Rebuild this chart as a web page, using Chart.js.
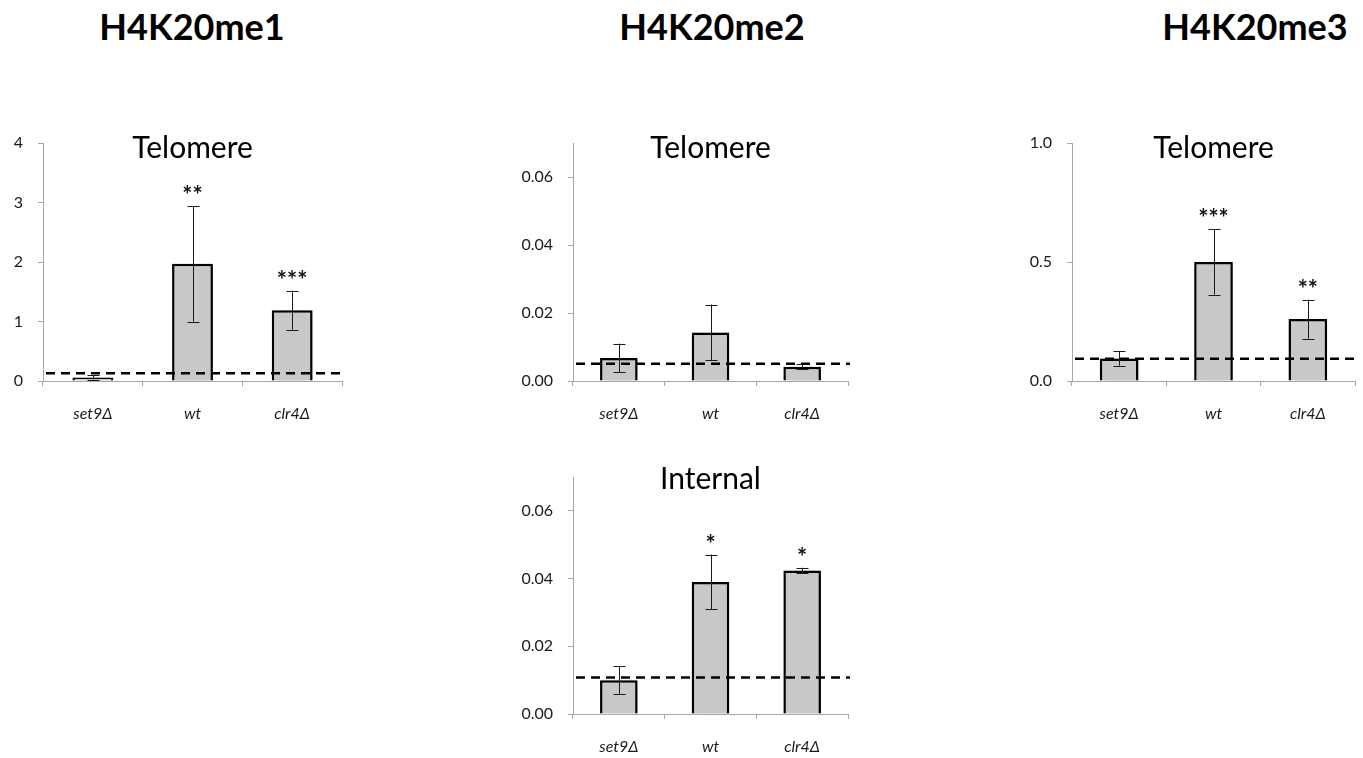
<!DOCTYPE html>
<html lang="en">
<head>
    <meta charset="UTF-8">
    <title>H4K20 methylation</title>
    <style>
        body {
            margin: 0;
            width: 1363px;
            height: 758px;
            background: white;
            position: relative;
            overflow: hidden;
            font-family: Lato, "Open Sans", sans-serif;
        }
        .head {
            position: absolute;
            top: 4px;
            width: 260px;
            text-align: center;
            font-weight: bold;
            font-size: 36px;
            color: black;
        }
        .box {
            position: absolute;
        }
    </style>
    <script src="https://cdn.jsdelivr.net/npm/chart.js"></script>
</head>
<body>
    <div class="head" style="left:62px">H4K20me1</div>
    <div class="head" style="left:582px">H4K20me2</div>
    <div class="head" style="left:1125px">H4K20me3</div>

    <div class="box" style="left:0px;top:100px;width:360px;height:330px"><canvas id="me1Tel"></canvas></div>
    <div class="box" style="left:520px;top:100px;width:350px;height:330px"><canvas id="me2Tel"></canvas></div>
    <div class="box" style="left:1020px;top:100px;width:343px;height:330px"><canvas id="me3Tel"></canvas></div>
    <div class="box" style="left:520px;top:434px;width:350px;height:324px"><canvas id="me2Int"></canvas></div>

    <script>
        const categories = ['set9Δ', 'wt', 'clr4Δ'];

        // H4K20me1, telomere
        const me1TelValues = [0.06, 1.97, 1.19];
        const me1TelErrors = [0.04, 0.97, 0.33];
        const me1TelCutoff = 0.13;
        const me1TelStars = ['', '**', '***'];
        const me1Ticks = [0, 1, 2, 3, 4];

        // H4K20me2, telomere
        const me2TelValues = [0.0068, 0.0143, 0.0042];
        const me2TelErrors = [0.0042, 0.0082, 0.0007];
        const me2TelCutoff = 0.0051;
        const me2TelStars = ['', '', ''];

        // H4K20me2, internal
        const me2IntValues = [0.0100, 0.0390, 0.0424];
        const me2IntErrors = [0.0041, 0.0081, 0.0008];
        const me2IntCutoff = 0.0108;
        const me2IntStars = ['', '*', '*'];
        const me2Ticks = [0, 0.02, 0.04, 0.06];

        // H4K20me3, telomere
        const me3TelValues = [0.095, 0.50, 0.26];
        const me3TelErrors = [0.03, 0.137, 0.082];
        const me3TelCutoff = 0.093;
        const me3TelStars = ['', '***', '**'];
        const me3Ticks = [0, 0.5, 1.0];

        Chart.defaults.font.family = 'Lato, "Open Sans", sans-serif';
        Chart.defaults.color = '#1a1a1a';

        // error bars, stars, dashed background line and the panel title
        const extras = {
            id: 'extras',
            beforeDatasetsDraw(chart) {
                const ctx = chart.ctx;
                ctx.save();
                ctx.shadowColor = 'rgba(0,0,0,0.28)';
                ctx.shadowBlur = 5;
                ctx.shadowOffsetX = 2;
                ctx.shadowOffsetY = 1;
            },
            afterDatasetsDraw(chart, args, opts) {
                const ctx = chart.ctx;
                ctx.restore();
                const area = chart.chartArea;
                const y = chart.scales.y;
                const meta = chart.getDatasetMeta(0);
                const values = chart.data.datasets[0].data;

                ctx.save();
                // error bars
                ctx.strokeStyle = '#1a1a1a';
                ctx.lineWidth = 1;
                opts.errors.forEach((e, i) => {
                    const px = Math.round(meta.data[i].x) + 0.5;
                    const top = y.getPixelForValue(values[i] + e);
                    const bot = y.getPixelForValue(values[i] - e);
                    ctx.beginPath();
                    ctx.moveTo(px, top);
                    ctx.lineTo(px, bot);
                    ctx.moveTo(px - 6, Math.round(top) + 0.5);
                    ctx.lineTo(px + 6, Math.round(top) + 0.5);
                    ctx.moveTo(px - 6, Math.round(bot) + 0.5);
                    ctx.lineTo(px + 6, Math.round(bot) + 0.5);
                    ctx.stroke();

                    if (opts.stars[i]) {
                        ctx.fillStyle = '#111';
                        ctx.font = 'bold 24px Lato, "Open Sans", sans-serif';
                        ctx.textAlign = 'center';
                        ctx.textBaseline = 'alphabetic';
                        ctx.fillText(opts.stars[i], meta.data[i].x, top - 2);
                    }
                });

                // dashed line
                const cy = y.getPixelForValue(opts.cutoff);
                ctx.strokeStyle = 'black';
                ctx.lineWidth = 2.5;
                ctx.setLineDash([9, 6]);
                ctx.beginPath();
                ctx.moveTo(area.left + 3, cy);
                ctx.lineTo(area.right + 2, cy);
                ctx.stroke();
                ctx.setLineDash([]);

                // title
                ctx.fillStyle = 'black';
                ctx.font = '30px Lato, "Open Sans", sans-serif';
                ctx.textAlign = 'center';
                ctx.textBaseline = 'alphabetic';
                ctx.fillText(opts.title, (area.left + area.right) / 2, area.top + opts.titleOffset);
                ctx.restore();
            }
        };

        function makeChart(id, values, errors, cutoff, stars, ticks, max, decimals, title, lay) {
            const ctx = document.getElementById(id).getContext('2d');
            return new Chart(ctx, {
                type: 'bar',
                data: {
                    labels: categories,
                    datasets: [{
                        data: values,
                        backgroundColor: '#c8c8c8',
                        borderColor: 'black',
                        borderWidth: 2.5,
                        categoryPercentage: 1,
                        barPercentage: 0.41
                    }]
                },
                options: {
                    responsive: true,
                    maintainAspectRatio: false,
                    animation: false,
                    layout: {
                        padding: { top: 43, right: lay.right, left: 0, bottom: 0 }
                    },
                    scales: {
                        x: {
                            grid: {
                                display: true,
                                drawOnChartArea: false,
                                tickLength: 5,
                                color: '#a6a6a6',
                                offset: true
                            },
                            border: { color: '#a6a6a6' },
                            ticks: {
                                padding: 18,
                                font: { size: 16, style: 'italic' },
                                color: '#1a1a1a'
                            },
                            afterFit: s => { s.height = lay.xH; }
                        },
                        y: {
                            min: 0,
                            max: max,
                            grid: {
                                display: true,
                                drawOnChartArea: false,
                                tickLength: 5,
                                color: '#a6a6a6'
                            },
                            border: { color: '#a6a6a6' },
                            ticks: {
                                padding: 15,
                                font: { size: 16 },
                                color: '#1a1a1a',
                                callback: v => v.toFixed(decimals)
                            },
                            afterBuildTicks: s => { s.ticks = ticks.map(v => ({ value: v })); },
                            afterFit: s => { s.width = lay.yW; }
                        }
                    },
                    plugins: {
                        legend: { display: false },
                        tooltip: { enabled: false },
                        extras: {
                            errors: errors,
                            stars: stars,
                            cutoff: cutoff,
                            title: title,
                            titleOffset: lay.titleOffset
                        }
                    }
                },
                plugins: [extras]
            });
        }

        window.onload = () => {
            makeChart('me1Tel', me1TelValues, me1TelErrors, me1TelCutoff, me1TelStars, me1Ticks, 4, 0, 'Telomere',
                { yW: 43, xH: 49, right: 18, titleOffset: 15 });
            makeChart('me2Tel', me2TelValues, me2TelErrors, me2TelCutoff, me2TelStars, me2Ticks, 0.07, 2, 'Telomere',
                { yW: 53, xH: 49, right: 22, titleOffset: 15 });
            makeChart('me3Tel', me3TelValues, me3TelErrors, me3TelCutoff, me3TelStars, me3Ticks, 1.0, 1, 'Telomere',
                { yW: 52, xH: 49, right: 8, titleOffset: 15 });
            makeChart('me2Int', me2IntValues, me2IntErrors, me2IntCutoff, me2IntStars, me2Ticks, 0.07, 2, 'Internal',
                { yW: 53, xH: 44, right: 22, titleOffset: 12 });
        };
    </script>
</body>
</html>
